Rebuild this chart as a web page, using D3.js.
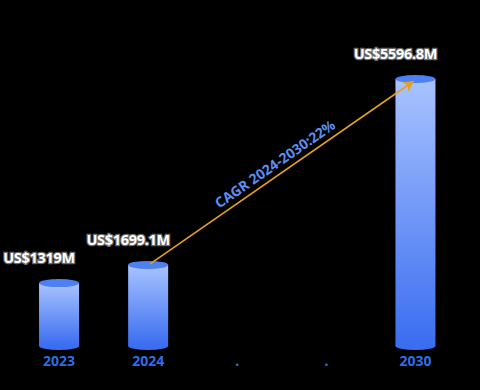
<!DOCTYPE html>
<html>
<head>
<meta charset="utf-8">
<style>
    body { margin:0; background:#000; }
    svg { display:block; background:#000; }
    .cat { fill:#2f6ee6; font: bold 14px "Noto Sans", sans-serif; }
    .val { fill:#fff; stroke:#6a6a6a; stroke-width:2.5px; paint-order:stroke; font: bold 14.5px "Noto Sans", sans-serif; letter-spacing:-0.3px; }
    .cagr { fill:#5b8ff0; font: bold 14px "Noto Sans", sans-serif; }
</style>
</head>
<body>
<script src="https://cdn.jsdelivr.net/npm/d3@7"></script>
<script>
var categories = ["2023", "2024", ".", ".", "2030"];
var values = [1319, 1699.1, null, null, 5596.8];
var valueLabels = ["US$1319M", "US$1699.1M", "", "", "US$5596.8M"];
var cagrText = "CAGR 2024-2030:22%";

var W = 480, H = 390;
var svg = d3.select("body").append("svg").attr("width", W).attr("height", H);

var x = d3.scalePoint().domain(d3.range(categories.length)).range([14.5, 460]).padding(0.5);
var y = d3.scaleLinear().domain([0, 5596.8]).range([346, 79]);
var bw = 40, ry = 4;

var defs = svg.append("defs");
var g = defs.append("linearGradient").attr("id", "cyl").attr("x1", 0).attr("y1", 0).attr("x2", 0).attr("y2", 1);
g.append("stop").attr("offset", "0%").attr("stop-color", "#a9c3ff");
g.append("stop").attr("offset", "100%").attr("stop-color", "#3a6df0");

defs.append("marker").attr("id", "arr").attr("viewBox", "0 0 10 10")
    .attr("refX", 8).attr("refY", 5).attr("markerWidth", 7).attr("markerHeight", 7)
    .attr("orient", "auto")
  .append("path").attr("d", "M0,0L10,5L0,10L3,5Z").attr("fill", "#e6a020");

var data = categories.map(function(c, i) { return {i:i, c:c, v:values[i], lab:valueLabels[i]}; });
var bars = data.filter(function(d) { return d.v != null; });

var bg = svg.selectAll(".bar").data(bars).enter().append("g").attr("class", "bar");
// bottom ellipse
bg.append("ellipse")
    .attr("cx", function(d) { return x(d.i); })
    .attr("cy", y(0))
    .attr("rx", bw/2).attr("ry", ry)
    .attr("fill", "#3a6df0");
// body
bg.append("rect")
    .attr("x", function(d) { return x(d.i) - bw/2; })
    .attr("y", function(d) { return y(d.v); })
    .attr("width", bw)
    .attr("height", function(d) { return y(0) - y(d.v); })
    .attr("fill", "url(#cyl)");
// top ellipse
bg.append("ellipse")
    .attr("cx", function(d) { return x(d.i); })
    .attr("cy", function(d) { return y(d.v); })
    .attr("rx", bw/2).attr("ry", ry)
    .attr("fill", "#4d80f2");

// value labels
svg.selectAll(".val").data(bars).enter().append("text")
    .attr("class", "val")
    .attr("x", function(d) { return x(d.i) - 20; })
    .attr("y", function(d) { return y(d.v) - 20; })
    .attr("text-anchor", "middle")
    .text(function(d) { return d.lab; });

// category labels
svg.selectAll(".cat").data(data).enter().append("text")
    .attr("class", "cat")
    .attr("x", function(d) { return x(d.i); })
    .attr("y", 366)
    .attr("text-anchor", "middle")
    .text(function(d) { return d.c; });

// CAGR arrow from 2024 top to 2030 top
var x1 = x(1) + 2, y1 = y(values[1]) - 1, x2 = x(4) - 3, y2 = y(values[4]) + 3;
svg.append("line")
    .attr("x1", x1).attr("y1", y1).attr("x2", x2).attr("y2", y2)
    .attr("stroke", "#e6a020").attr("stroke-width", 1.6)
    .attr("marker-end", "url(#arr)");

var ang = Math.atan2(y2 - y1, x2 - x1) * 180 / Math.PI;
var mx = (x1 + x2) / 2, my = (y1 + y2) / 2;
svg.append("text")
    .attr("class", "cagr")
    .attr("text-anchor", "middle")
    .attr("transform", "translate(" + mx + "," + my + ") rotate(" + ang + ") translate(0,-6)")
    .text(cagrText);
</script>
</body>
</html>
